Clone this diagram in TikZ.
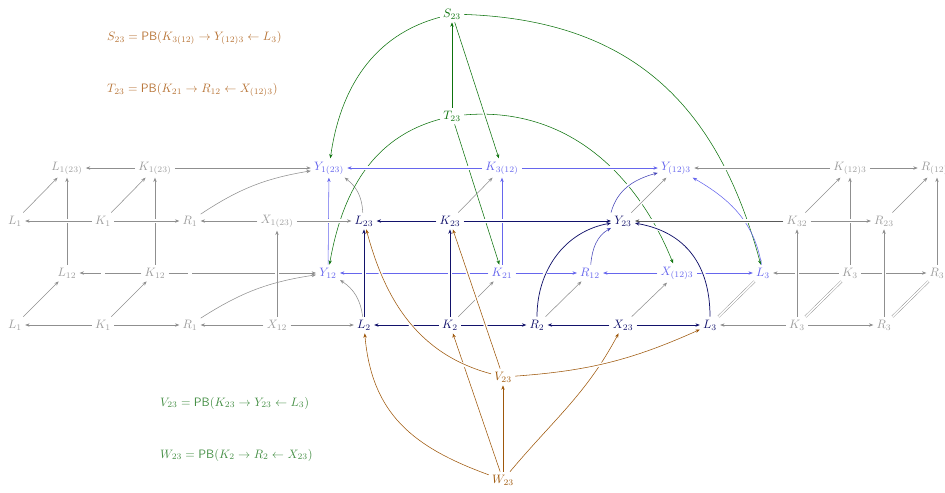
\documentclass[tikz,border=0pt]{standalone}
\usetikzlibrary{arrows.meta}
\definecolor{navy}{rgb}{0.07,0.07,0.42}
\definecolor{lblue}{rgb}{0.40,0.40,0.93}
\definecolor{mblue}{rgb}{0.27,0.27,0.72}
\definecolor{dgreen}{rgb}{0.05,0.45,0.05}
\definecolor{lgreen}{rgb}{0.27,0.56,0.27}
\definecolor{brn}{rgb}{0.62,0.34,0.04}
\definecolor{lbrn}{rgb}{0.72,0.46,0.22}
\definecolor{gtext}{gray}{0.62}
\definecolor{gline}{gray}{0.56}
\definecolor{dline}{gray}{0.35}
\begin{document}
\begin{tikzpicture}[x=0.82pt,y=0.82pt,
  every node/.style={inner sep=2.5pt},
  gn/.style={text=gtext},
  bn/.style={text=lblue},
  nn/.style={text=navy},
  grn/.style={text=dgreen},
  orn/.style={text=brn},
  ar/.style={-{Stealth[length=3.6pt,width=2.8pt]}, line width=0.45pt},
  ga/.style={ar, draw=gline},
  da/.style={ar, draw=dline},
  ba/.style={ar, draw=lblue},
  mba/.style={ar, draw=mblue},
  na/.style={ar, draw=navy, line width=0.6pt},
  gra/.style={ar, draw=dgreen},
  oa/.style={ar, draw=brn},
  over/.style={preaction={draw=white, -, line width=3pt, shorten <=5pt, shorten >=5pt}},
  eq/.style={draw=gline, double=white, double distance=1.3pt, line width=0.35pt},
  lab/.style={inner sep=0pt, anchor=west}]
\useasboundingbox (0,0) rectangle (945,-492);

% back top row
\node[gn] (lA) at (67,-168) {$L_{1(23)}$};
\node[gn] (kA) at (155,-168) {$K_{1(23)}$};
\node[bn] (yA) at (329,-168) {$Y_{1(23)}$};
\node[bn] (k3) at (502,-168) {$K_{3(12)}$};
\node[bn] (yB) at (676,-168) {$Y_{(12)3}$};
\node[gn] (kB) at (850,-168) {$K_{(12)3}$};
\node[gn] (rB) at (937,-168) {$R_{(12)3}$};
% front top row
\node[gn] (l1t) at (15,-221) {$L_1$};
\node[gn] (k1t) at (103,-221) {$K_1$};
\node[gn] (r1t) at (190,-221) {$R_1$};
\node[gn] (xA) at (277,-221) {$X_{1(23)}$};
\node[nn] (l23) at (364,-221) {$L_{23}$};
\node[nn] (k23) at (450,-221) {$K_{23}$};
\node[nn] (y23) at (623,-221) {$Y_{23}$};
\node[gn] (k32) at (797,-221) {$K_{32}$};
\node[gn] (r23) at (884,-221) {$R_{23}$};
% back bottom row
\node[gn] (l12) at (67,-273) {$L_{12}$};
\node[gn] (k12) at (155,-273) {$K_{12}$};
\node[bn] (y12) at (328,-273) {$Y_{12}$};
\node[bn] (k21) at (502,-273) {$K_{21}$};
\node[bn] (r12) at (590,-273) {$R_{12}$};
\node[bn] (xB) at (677,-273) {$X_{(12)3}$};
\node[bn] (l3b) at (763,-273) {$L_3$};
\node[gn] (k3b) at (850,-273) {$K_3$};
\node[gn] (r3b) at (937,-273) {$R_3$};
% front bottom row
\node[gn] (l1b) at (15,-325) {$L_1$};
\node[gn] (k1b) at (103,-325) {$K_1$};
\node[gn] (r1b) at (190,-325) {$R_1$};
\node[gn] (x12) at (277,-325) {$X_{12}$};
\node[nn] (l2) at (364,-325) {$L_2$};
\node[nn] (k2) at (450,-325) {$K_2$};
\node[nn] (r2) at (537,-325) {$R_2$};
\node[nn] (x23) at (623,-325) {$X_{23}$};
\node[nn] (l3) at (710,-325) {$L_3$};
\node[gn] (k3f) at (797,-325) {$K_3$};
\node[gn] (r3f) at (884,-325) {$R_3$};
% extra
\node[grn] (s23) at (452,-14) {$S_{23}$};
\node[grn] (t23) at (452,-116) {$T_{23}$};
\node[orn] (v23) at (503,-377) {$V_{23}$};
\node[orn] (w23) at (503,-480) {$W_{23}$};

\node[lab, text=lbrn] (pbS) at (107,-38) {$S_{23} = \mathsf{PB}(K_{3(12)} \to Y_{(12)3} \leftarrow L_3)$};
\node[lab, text=lbrn] (pbT) at (107,-90) {$T_{23} = \mathsf{PB}(K_{21} \to R_{12} \leftarrow X_{(12)3})$};
\node[lab, text=lgreen] (pbV) at (160,-403) {$V_{23} = \mathsf{PB}(K_{23} \to Y_{23} \leftarrow L_3)$};
\node[lab, text=lgreen] (pbW) at (160,-455) {$W_{23} = \mathsf{PB}(K_2 \to R_2 \leftarrow X_{23})$};

% ---- left gray cube
\draw[ga] (l12) -- (lA);
\draw[ga] (k12) -- (kA);
\draw[ga] (k12) -- (l12);
\draw[ga] (k12) -- (y12);
\draw[ga] (kA) -- (lA);
\draw[ga] (kA) -- (yA);
\draw[ga,over] (k1t) -- (l1t);
\draw[ga,over] (k1t) -- (r1t);
\draw[ga] (xA) -- (r1t);
\draw[ga] (k1b) -- (l1b);
\draw[ga] (k1b) -- (r1b);
\draw[ga] (x12) -- (r1b);
\draw[eq,over] (l1b) -- (l1t);
\draw[eq,over] (k1b) -- (k1t);
\draw[eq,over] (r1b) -- (r1t);
\draw[ga,over] (x12) -- (xA);
\draw[ga] (l1b) -- (l12);
\draw[ga] (l1t) -- (lA);
\draw[ga] (k1b) -- (k12);
\draw[ga] (k1t) -- (kA);
\draw[ga] (r1t) to[bend left=12] (yA);
\draw[ga] (r1b) to[bend left=12] (y12);
\draw[ga] (l23) to[bend right=25] (yA);
\draw[ga] (l2) to[bend right=25] (y12);

% ---- green
\draw[gra] (t23) -- (s23);
\draw[gra] (s23) to[out=195,in=82] (yA);
\draw[gra] (s23) to[out=-2,in=105,looseness=1.1] (l3b);
\draw[gra] (t23) to[out=195,in=80] (y12);
\draw[gra] (t23) -- (k21);
\draw[gra] (t23) to[out=5,in=112] (xB);
\draw[gra,over] (s23) -- (k3);

% ---- blue back face
\draw[ba] (y12) -- (yA);
\draw[ba] (k21) -- (k3);
\draw[ba] (k21) -- (y12);
\draw[ba] (k21) -- (r12);
\draw[ba] (xB) -- (r12);
\draw[ba] (xB) -- (l3b);
\draw[ba,over] (k3) -- (yA);
\draw[ba,over] (k3) -- (yB);
\draw[ga,over] (xA) -- (l23);
\draw[ga] (x12) -- (l2);

% ---- right gray cube
\draw[ga] (k3b) -- (kB);
\draw[ga] (r3b) -- (rB);
\draw[ga] (k3b) -- (l3b);
\draw[ga] (k3b) -- (r3b);
\draw[ga] (kB) -- (rB);
\draw[ga] (k3f) -- (l3);
\draw[ga] (k3f) -- (r3f);
\draw[ga,over] (k3f) -- (k32);
\draw[ga,over] (r3f) -- (r23);
\draw[ga] (k32) -- (kB);
\draw[ga] (r23) -- (rB);
\draw[eq] (l3) -- (l3b);
\draw[eq] (k3f) -- (k3b);
\draw[eq] (r3f) -- (r3b);

% ---- middle diagonals and curves
\draw[ga] (k23) -- (k3);
\draw[ga] (k2) -- (k21);
\draw[ga] (r2) -- (r12);
\draw[ga] (x23) -- (xB);
\draw[ba] (l3b) to[out=100,in=-30] (yB);
\draw[ga,over] (kB) -- (yB);
\draw[ga,over] (y23) -- (yB);
\draw[mba,over] (y23.north west) to[out=75,in=195] (yB);
\draw[mba] (r12) to[out=85,in=210] (y23);
\draw[da,over] (k32) -- (y23);
\draw[ga,over] (k32) -- (r23);

% ---- navy
\draw[na,over] (k23) -- (l23);
\draw[na,over] (k23) -- (y23);
\draw[na,over] (l2) -- (l23);
\draw[na,over] (k2) -- (k23);
\draw[na] (k2) -- (l2);
\draw[na] (k2) -- (r2);
\draw[na] (x23) -- (r2);
\draw[na] (x23) -- (l3);
\draw[na,over] (r2) to[out=90,in=190] (y23);
\draw[na,over] (l3) to[out=90,in=-10,looseness=1.1] (y23);

% ---- orange
\draw[oa] (w23) -- (v23);
\draw[oa] (w23) to[out=160,in=-85,looseness=1.1] (l2);
\draw[oa] (w23) -- (k2);
\draw[oa] (w23) to[out=50,in=-118] (x23);
\draw[oa,over] (v23) to[out=165,in=-75] (l23);
\draw[oa,over] (v23) -- (k23);
\draw[oa,over] (v23) to[bend right=10] (l3);
\end{tikzpicture}
\end{document}
